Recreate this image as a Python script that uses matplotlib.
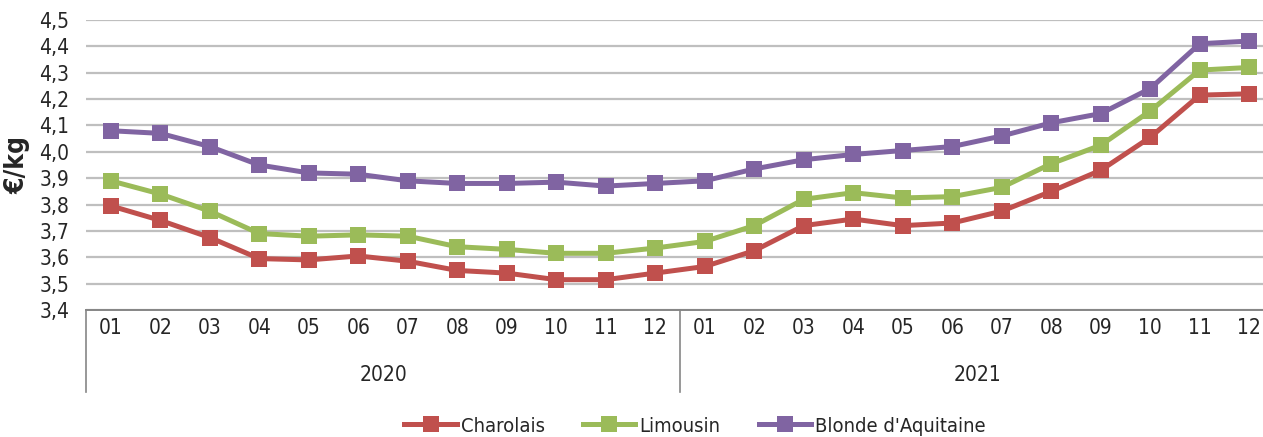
import matplotlib

matplotlib.use("Agg")
import matplotlib.pyplot as plt
from matplotlib.lines import Line2D
from matplotlib.ticker import FuncFormatter

plt.rcParams["font.family"] = ["DejaVu Sans"]
plt.rcParams["font.stretch"] = "condensed"

# --- data ---------------------------------------------------------------
months = ["01", "02", "03", "04", "05", "06", "07", "08", "09", "10", "11", "12"] * 2
years = ["2020", "2021"]
series = ["Charolais", "Limousin", "Blonde d'Aquitaine"]
charolais = [3.795, 3.74, 3.675, 3.595, 3.59, 3.605, 3.585, 3.55, 3.54, 3.515, 3.515, 3.54,
             3.565, 3.625, 3.72, 3.745, 3.72, 3.73, 3.775, 3.85, 3.93, 4.055, 4.215, 4.22]
limousin = [3.89, 3.84, 3.775, 3.69, 3.68, 3.685, 3.68, 3.64, 3.63, 3.615, 3.615, 3.635,
            3.66, 3.72, 3.82, 3.845, 3.825, 3.83, 3.865, 3.955, 4.025, 4.155, 4.31, 4.32]
blonde = [4.08, 4.07, 4.02, 3.95, 3.92, 3.915, 3.89, 3.88, 3.88, 3.885, 3.87, 3.88,
          3.89, 3.935, 3.97, 3.99, 4.005, 4.02, 4.06, 4.11, 4.145, 4.24, 4.41, 4.42]
yticks = [3.4, 3.5, 3.6, 3.7, 3.8, 3.9, 4.0, 4.1, 4.2, 4.3, 4.4, 4.5]

COLORS = ["#C0504D", "#9BBB59", "#8064A2"]
GRID = "#BFBFBF"
AXIS = "#868686"
TXT = "#262626"

W, H = 1263, 437
fig = plt.figure(figsize=(W / 100, H / 100), dpi=100)
# plot area runs a little past the right edge, as in the source crop
ax = fig.add_axes([86 / W, 1 - 310 / H, (24 * 49.5) / W, 290 / H])

x = list(range(len(months)))
for vals, c in zip([charolais, limousin, blonde], COLORS):
    ax.plot(x, vals, color=c, linewidth=3.6, marker="s", markersize=11,
            markeredgewidth=0, zorder=3)

ax.set_xlim(-0.5, 23.5)
ax.set_ylim(3.4, 4.5)
ax.set_yticks(yticks)
ax.yaxis.set_major_formatter(FuncFormatter(lambda v, p: f"{v:.1f}".replace(".", ",")))
ax.grid(axis="y", color=GRID, linewidth=1.6)
ax.set_axisbelow(True)
for s in ["top", "right", "left"]:
    ax.spines[s].set_visible(False)
ax.spines["bottom"].set_color(AXIS)
ax.spines["bottom"].set_linewidth(1.4)
ax.tick_params(axis="y", length=0, labelsize=15, labelcolor=TXT, pad=12)
ax.set_xticks(x)
ax.set_xticklabels(months)
ax.tick_params(axis="x", length=0, labelsize=15, labelcolor=TXT, pad=6)
ax.set_ylabel("€/kg", fontsize=19, fontweight="bold", color=TXT, labelpad=6)

# year group labels and separators
tr = ax.get_xaxis_transform()
for i, yr in enumerate(years):
    ax.text(i * 12 + 5.5, -0.225, yr, transform=tr, ha="center", va="center",
            fontsize=15, color=TXT)
for xs in [-0.5, 11.5, 23.5]:
    ax.plot([xs, xs], [0, -0.283], transform=tr, color=AXIS, linewidth=1.2,
            clip_on=False)

handles = [Line2D([], [], color=c, linewidth=3.6, marker="s", markersize=11,
                  markeredgewidth=0) for c in COLORS]
fig.legend(handles, series, loc="center", bbox_to_anchor=(695 / W, 1 - 426 / H),
           ncol=3, frameon=False, fontsize=14.5, handlelength=2.6,
           handletextpad=0.2, columnspacing=1.9, labelcolor=TXT)

fig.savefig("out.png", dpi=100)
